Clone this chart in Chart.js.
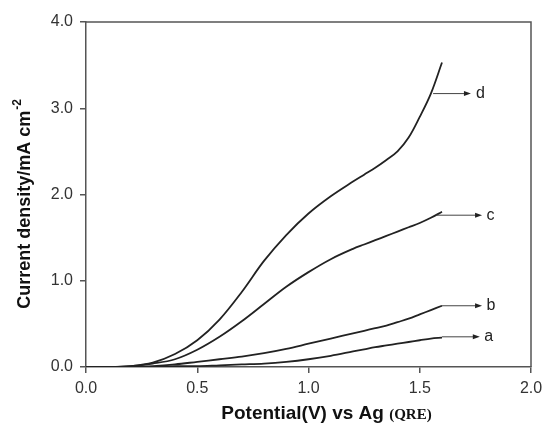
<!DOCTYPE html>
<html>
<head>
<meta charset="utf-8">
<script src="https://cdn.jsdelivr.net/npm/chart.js@4/dist/chart.umd.min.js"></script>
<style>
  html, body { margin: 0; padding: 0; background: #fff; }
  #wrap { width: 543px; height: 424px; }
</style>
</head>
<body>
<div id="wrap"><canvas id="myChart" width="543" height="424"></canvas></div>
<script>
//Potential (V) sampled along the sweep
var potential = [0, 0.1, 0.2, 0.3, 0.4, 0.5, 0.6, 0.7, 0.8, 0.9, 1.0, 1.1, 1.2, 1.25, 1.3, 1.35, 1.4, 1.45, 1.5, 1.55, 1.6];

//Current density (mA cm-2) for each curve
var curveA = [0, 0, 0, 0.00, 0.01, 0.01, 0.02, 0.03, 0.04, 0.06, 0.09, 0.13, 0.18, 0.205, 0.23, 0.25, 0.27, 0.29, 0.31, 0.33, 0.34];
var curveB = [0, 0, 0, 0.01, 0.03, 0.06, 0.09, 0.12, 0.16, 0.21, 0.27, 0.33, 0.39, 0.42, 0.45, 0.48, 0.52, 0.56, 0.61, 0.66, 0.71];
var curveC = [0, 0, 0.01, 0.04, 0.09, 0.20, 0.35, 0.53, 0.73, 0.93, 1.10, 1.25, 1.37, 1.42, 1.47, 1.52, 1.57, 1.62, 1.67, 1.73, 1.80];
var curveD = [0, 0, 0.01, 0.05, 0.15, 0.31, 0.55, 0.87, 1.23, 1.53, 1.78, 1.98, 2.15, 2.23, 2.31, 2.40, 2.50, 2.66, 2.90, 3.17, 3.53];

//Tick labels
var xTicks = [0, 0.5, 1.0, 1.5, 2.0];
var yTicks = [0, 1.0, 2.0, 3.0, 4.0];

//Arrow labels pointing at the curve ends
var labelNames = ['a', 'b', 'c', 'd'];
var arrowY = [0.35, 0.71, 1.76, 3.17];
var arrowFrom = [1.60, 1.60, 1.575, 1.56];
var arrowTo = [1.77, 1.78, 1.78, 1.73];
var labelX = [1.79, 1.80, 1.80, 1.753];

var axisColor = '#555';
var lineColor = '#222';

function toPoints(ys){
  return potential.map(function(v, i){ return {x: v, y: ys[i]}; });
}

function curve(ys){
  return {
    data: toPoints(ys),
    borderColor: lineColor,
    borderWidth: 1.8,
    pointRadius: 0,
    fill: false,
    tension: 0.35
  };
}

//Draws the box, arrows, letters and the axis titles
var extras = {
  id: 'extras',
  afterDraw: function(chart){
    var c = chart.ctx;
    var a = chart.chartArea;
    var xs = chart.scales.x, ys = chart.scales.y;
    c.save();

    //top and right edges of the frame
    c.strokeStyle = axisColor;
    c.lineWidth = 1.5;
    c.beginPath();
    c.moveTo(a.left, a.top);
    c.lineTo(a.right, a.top);
    c.lineTo(a.right, a.bottom);
    c.stroke();

    //arrows + letters
    for (var i = 0; i < labelNames.length; i++){
      var y = ys.getPixelForValue(arrowY[i]);
      var x0 = xs.getPixelForValue(arrowFrom[i]);
      var x1 = xs.getPixelForValue(arrowTo[i]);
      c.strokeStyle = '#444';
      c.lineWidth = 1;
      c.beginPath();
      c.moveTo(x0, y);
      c.lineTo(x1 - 5, y);
      c.stroke();
      c.fillStyle = '#222';
      c.beginPath();
      c.moveTo(x1, y);
      c.lineTo(x1 - 7, y - 2.5);
      c.lineTo(x1 - 7, y + 2.5);
      c.closePath();
      c.fill();
      c.font = '16px "Liberation Sans", Arial, sans-serif';
      c.textAlign = 'left';
      c.textBaseline = 'middle';
      c.fillText(labelNames[i], xs.getPixelForValue(labelX[i]), y);
    }

    //x title
    c.fillStyle = '#111';
    c.textBaseline = 'alphabetic';
    c.textAlign = 'left';
    c.font = 'bold 19px "Liberation Sans", Arial, sans-serif';
    var main = 'Potential(V) vs Ag ';
    var w = c.measureText(main).width;
    c.font = 'bold 15px "Liberation Serif", "Times New Roman", serif';
    var w2 = c.measureText('(QRE)').width;
    var sx = (a.left + a.right) / 2 + 18 - (w + w2) / 2;
    c.font = 'bold 19px "Liberation Sans", Arial, sans-serif';
    c.fillText(main, sx, 419);
    c.font = 'bold 15px "Liberation Serif", "Times New Roman", serif';
    c.fillText('(QRE)', sx + w, 419);

    //y title, rotated
    c.translate(30, 0);
    c.rotate(-Math.PI / 2);
    c.font = 'bold 18px "Liberation Sans", Arial, sans-serif';
    var yt = 'Current density/mA cm';
    var yw = c.measureText(yt).width;
    c.font = 'bold 12px "Liberation Sans", Arial, sans-serif';
    var sw = c.measureText('-2').width;
    var start = -((a.top + a.bottom) / 2 + 10) - (yw + sw) / 2;
    c.font = 'bold 18px "Liberation Sans", Arial, sans-serif';
    c.fillText(yt, start, 0);
    c.font = 'bold 12px "Liberation Sans", Arial, sans-serif';
    c.fillText('-2', start + yw + 1, -9);

    c.restore();
  }
};

var ctx = document.getElementById('myChart').getContext('2d');
var myChart = new Chart(ctx, {
  type: 'line',
  data: {
    datasets: [curve(curveA), curve(curveB), curve(curveC), curve(curveD)]
  },
  options: {
    responsive: false,
    animation: false,
    layout: { padding: { top: 22, right: 0, left: 0, bottom: 0 } },
    plugins: { legend: { display: false }, tooltip: { enabled: false } },
    scales: {
      x: {
        type: 'linear',
        min: 0, max: 2,
        afterBuildTicks: function(s){ s.ticks = xTicks.map(function(v){ return {value: v}; }); },
        afterFit: function(s){ s.height = 57; s.paddingRight = 12; s.paddingLeft = 0; },
        ticks: {
          color: '#333',
          padding: 6,
          maxRotation: 0,
          font: { size: 16, family: '"Liberation Sans", Arial, sans-serif' },
          callback: function(v){ return v.toFixed(1); }
        },
        grid: { drawOnChartArea: false, tickLength: 6, color: axisColor, lineWidth: 1.5 },
        border: { color: axisColor, width: 1.5 }
      },
      y: {
        min: 0, max: 4,
        afterBuildTicks: function(s){ s.ticks = yTicks.map(function(v){ return {value: v}; }); },
        afterFit: function(s){ s.width = 86; s.paddingTop = 0; s.paddingBottom = 0; },
        ticks: {
          color: '#333',
          padding: 7,
          font: { size: 16, family: '"Liberation Sans", Arial, sans-serif' },
          callback: function(v){ return v.toFixed(1); }
        },
        grid: { drawOnChartArea: false, tickLength: 6, color: axisColor, lineWidth: 1.5 },
        border: { color: axisColor, width: 1.5 }
      }
    }
  },
  plugins: [extras]
});
</script>
</body>
</html>
